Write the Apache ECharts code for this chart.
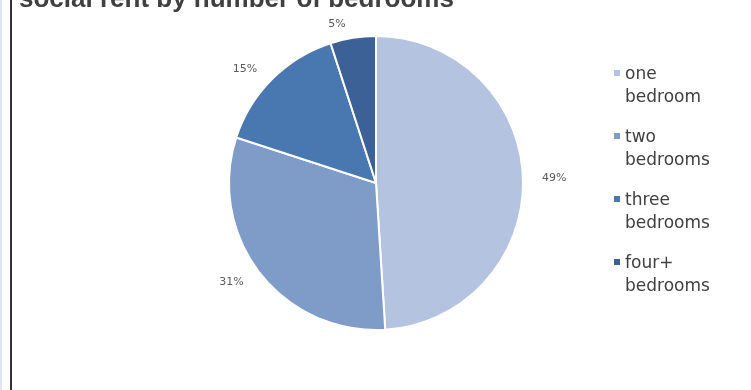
<!DOCTYPE html>
<html>
<head>
<meta charset="utf-8">
<style>
html,body{margin:0;padding:0;background:#fff;}
#chart{width:751px;height:390px;}
</style>
<script src="https://cdn.jsdelivr.net/npm/echarts@6/dist/echarts.min.js"></script>
</head>
<body>
<div id="chart"></div>
<script>
var titleText = 'social rent by number of bedrooms';
var categories = ['one\nbedroom', 'two\nbedrooms', 'three\nbedrooms', 'four+\nbedrooms'];
var values = [49, 31, 15, 5];
var colors = ['#B4C3E0', '#7F9CC8', '#4977B0', '#3B6197'];

var chart = echarts.init(document.getElementById('chart'), null, {renderer: 'canvas'});
chart.setOption({
  animation: false,
  backgroundColor: '#ffffff',
  color: colors,
  title: {
    text: titleText,
    left: 14,
    top: -18,
    textStyle: {
      fontFamily: 'Liberation Sans, Arial, sans-serif',
      fontWeight: 'bold',
      fontSize: 26,
      color: '#404040'
    }
  },
  graphic: [
    {type: 'rect', shape: {x: 0, y: 0, width: 2, height: 390}, style: {fill: '#dce7f5'}, silent: true},
    {type: 'rect', shape: {x: 10, y: 0, width: 2, height: 390}, style: {fill: '#333333'}, silent: true}
  ],
  legend: {
    orient: 'vertical',
    left: 609,
    top: 58,
    itemWidth: 6,
    itemHeight: 32,
    itemGap: 17,
    icon: 'path://M0,0L6,0L6,6L0,6Z M0,31L0,32',
    itemStyle: {borderWidth: 0},
    data: categories,
    textStyle: {
      fontFamily: 'DejaVu Sans, sans-serif',
      fontSize: 17,
      color: '#404040',
      lineHeight: 23
    }
  },
  series: [{
    type: 'pie',
    center: [376, 183],
    radius: 147,
    startAngle: 90,
    clockwise: true,
    avoidLabelOverlap: false,
    itemStyle: {borderColor: '#ffffff', borderWidth: 2},
    label: {
      show: true,
      position: 'outside',
      formatter: '{d}%',
      fontFamily: 'DejaVu Sans, sans-serif',
      fontSize: 11,
      color: '#5a5a5a'
    },
    labelLine: {show: false, length: 14, length2: 0},
    data: categories.map(function (c, i) { return {name: c, value: values[i]}; })
  }]
});
</script>
</body>
</html>
